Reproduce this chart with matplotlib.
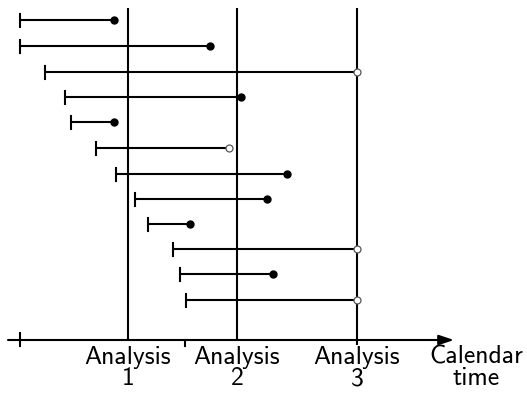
import matplotlib
matplotlib.use("Agg")
import matplotlib.pyplot as plt

# Data (in pixel-like calendar/row units)
rows = [20, 46, 72, 97, 122, 148, 174, 199, 224, 249, 274, 300]
starts = [20, 20, 45, 65, 71, 96, 116, 135, 148, 173, 180, 186]
ends = [114, 210, 357, 241, 114, 229, 287, 267, 190, 357, 273, 357]
event = [True, True, False, True, True, False, True, True, True, False, True, False]
analyses = [128, 237, 357]
analysis_labels = ["Analysis\n1", "Analysis\n2", "Analysis\n3"]
axis_ticks = [20, 185]

fig = plt.figure(figsize=(5.27, 3.98), dpi=100)
ax = fig.add_axes([0, 0, 1, 1])
ax.set_xlim(0, 527)
ax.set_ylim(398, 0)
ax.axis("off")

font = "cmss10"
lw = 1.5
fs = 18.5

# analysis lines
for i, a in enumerate(analyses):
    bottom = 345 if i == len(analyses) - 1 else 340
    ax.plot([a, a], [8, bottom], color="black", lw=lw, solid_capstyle="butt")
    ax.text(a, 346, analysis_labels[i], ha="center", va="top", fontsize=fs,
            family=font, linespacing=0.9)

# calendar axis
ax.annotate("", xy=(454, 340), xytext=(8, 340),
            arrowprops=dict(arrowstyle="-|>,head_length=0.9,head_width=0.3",
                            color="black", lw=lw, shrinkA=0, shrinkB=0))
ax.plot([axis_ticks[0]] * 2, [333, 346], color="black", lw=lw)
ax.plot([axis_ticks[1]] * 2, [340, 346], color="black", lw=lw)
ax.text(476, 346, "Calendar\ntime", ha="center", va="top", fontsize=fs,
        family=font, linespacing=0.9)

# subjects
for y, s, e, ev in zip(rows, starts, ends, event):
    ax.plot([s, e], [y, y], color="black", lw=lw, solid_capstyle="butt", zorder=2)
    ax.plot([s, s], [y - 6.5, y + 6.5], color="black", lw=lw, zorder=2)
    if ev:
        ax.plot(e, y, "o", ms=5, color="black", zorder=3)
    else:
        ax.plot(e, y, "o", ms=5, mfc="white", mec="#555555", mew=0.9, zorder=3)

fig.savefig("out.png", dpi=100)
